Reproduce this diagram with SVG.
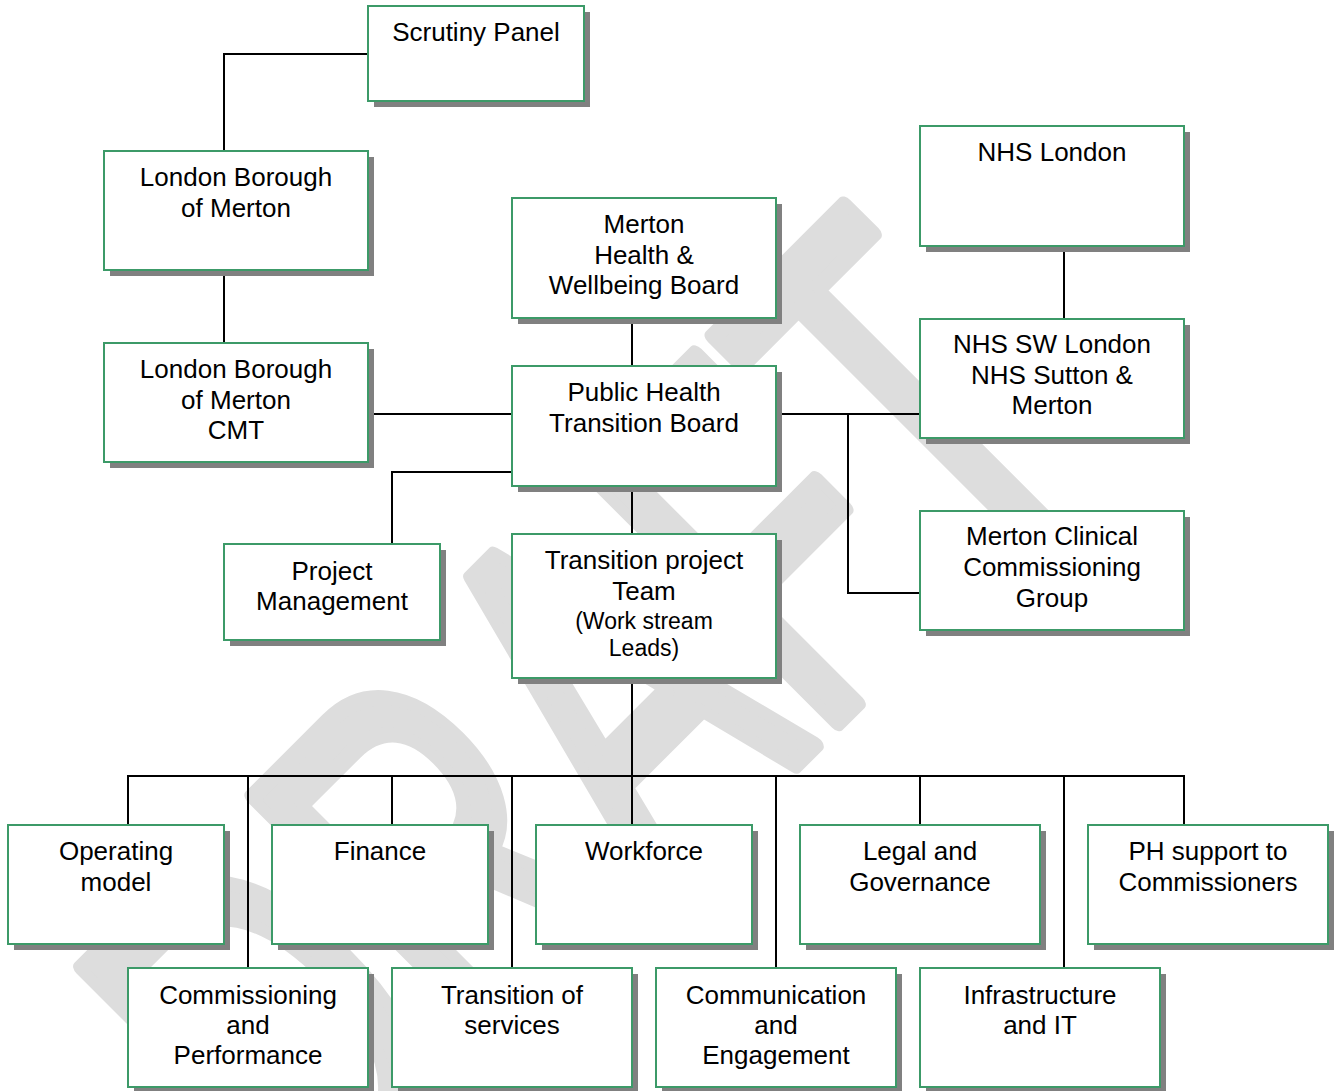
<svg xmlns="http://www.w3.org/2000/svg" width="1338" height="1091" viewBox="0 0 1338 1091">
<style>
text { font-family: "Liberation Sans", Arial, sans-serif; font-size: 26px; text-anchor: middle; fill: #000; }
text.sm { font-size: 23px; }
text.wm { font-size: 524px; text-anchor: start; fill: #dddddd; stroke: #dddddd; stroke-width: 18; stroke-linejoin: round; font-kerning: none; }
.sh { fill: #808080; }
.bx { fill: #ffffff; stroke: #3c9a68; stroke-width: 2; }
.cn { fill: none; stroke: #000; stroke-width: 2; }
</style>
<rect width="1338" height="1091" fill="#ffffff"/>
<g id="watermark" transform="rotate(-45)">
<text class="wm" transform="translate(-656,1103) scale(0.64,1)">DRAFT</text>
</g>
<g id="connectors" class="cn">
<path d="M368,54 H224 V151"/>
<path d="M224,270 V343"/>
<path d="M368,414 H512"/>
<path d="M632,318 V366"/>
<path d="M632,486 V534"/>
<path d="M512,472 H392 V544"/>
<path d="M776,414 H920"/>
<path d="M848,414 V593 H920"/>
<path d="M1064,246 V319"/>
<path d="M632,678 V825"/>
<path d="M128,825 V776 H1184 V825"/>
<path d="M248,776 V968"/>
<path d="M392,776 V825"/>
<path d="M512,776 V968"/>
<path d="M776,776 V968"/>
<path d="M920,776 V825"/>
<path d="M1064,776 V968"/>
</g>
<g id="scrutiny"><rect class="sh" x="374" y="12" width="216" height="95"/><rect class="bx" x="368" y="6" width="216" height="95"/><text x="476" y="41">Scrutiny Panel</text></g>
<g id="lbm"><rect class="sh" x="110" y="157" width="264" height="119"/><rect class="bx" x="104" y="151" width="264" height="119"/><text x="236" y="186">London Borough</text><text x="236" y="217">of Merton</text></g>
<g id="cmt"><rect class="sh" x="110" y="349" width="264" height="119"/><rect class="bx" x="104" y="343" width="264" height="119"/><text x="236" y="378">London Borough</text><text x="236" y="409">of Merton</text><text x="236" y="439">CMT</text></g>
<g id="hwb"><rect class="sh" x="518" y="204" width="264" height="120"/><rect class="bx" x="512" y="198" width="264" height="120"/><text x="644" y="233">Merton</text><text x="644" y="264">Health &amp;</text><text x="644" y="294">Wellbeing Board</text></g>
<g id="phtb"><rect class="sh" x="518" y="372" width="264" height="120"/><rect class="bx" x="512" y="366" width="264" height="120"/><text x="644" y="401">Public Health</text><text x="644" y="432">Transition Board</text></g>
<g id="pm"><rect class="sh" x="230" y="550" width="216" height="96"/><rect class="bx" x="224" y="544" width="216" height="96"/><text x="332" y="580">Project</text><text x="332" y="610">Management</text></g>
<g id="tpt"><rect class="sh" x="518" y="540" width="264" height="144"/><rect class="bx" x="512" y="534" width="264" height="144"/><text x="644" y="569">Transition project</text><text x="644" y="600">Team</text><text class="sm" x="644" y="629">(Work stream</text><text class="sm" x="644" y="656">Leads)</text></g>
<g id="nhsl"><rect class="sh" x="926" y="132" width="264" height="120"/><rect class="bx" x="920" y="126" width="264" height="120"/><text x="1052" y="161">NHS London</text></g>
<g id="nhssw"><rect class="sh" x="926" y="325" width="264" height="119"/><rect class="bx" x="920" y="319" width="264" height="119"/><text x="1052" y="353">NHS SW London</text><text x="1052" y="384">NHS Sutton &amp;</text><text x="1052" y="414">Merton</text></g>
<g id="mccg"><rect class="sh" x="926" y="517" width="264" height="119"/><rect class="bx" x="920" y="511" width="264" height="119"/><text x="1052" y="545">Merton Clinical</text><text x="1052" y="576">Commissioning</text><text x="1052" y="607">Group</text></g>
<g id="om"><rect class="sh" x="14" y="831" width="216" height="119"/><rect class="bx" x="8" y="825" width="216" height="119"/><text x="116" y="860">Operating</text><text x="116" y="891">model</text></g>
<g id="fin"><rect class="sh" x="278" y="831" width="216" height="119"/><rect class="bx" x="272" y="825" width="216" height="119"/><text x="380" y="860">Finance</text></g>
<g id="wf"><rect class="sh" x="542" y="831" width="216" height="119"/><rect class="bx" x="536" y="825" width="216" height="119"/><text x="644" y="860">Workforce</text></g>
<g id="lg"><rect class="sh" x="806" y="831" width="240" height="119"/><rect class="bx" x="800" y="825" width="240" height="119"/><text x="920" y="860">Legal and</text><text x="920" y="891">Governance</text></g>
<g id="ph"><rect class="sh" x="1094" y="831" width="240" height="119"/><rect class="bx" x="1088" y="825" width="240" height="119"/><text x="1208" y="860">PH support to</text><text x="1208" y="891">Commissioners</text></g>
<g id="cp"><rect class="sh" x="134" y="974" width="240" height="119"/><rect class="bx" x="128" y="968" width="240" height="119"/><text x="248" y="1004">Commissioning</text><text x="248" y="1034">and</text><text x="248" y="1064">Performance</text></g>
<g id="ts"><rect class="sh" x="398" y="974" width="240" height="119"/><rect class="bx" x="392" y="968" width="240" height="119"/><text x="512" y="1004">Transition of</text><text x="512" y="1034">services</text></g>
<g id="ce"><rect class="sh" x="662" y="974" width="240" height="119"/><rect class="bx" x="656" y="968" width="240" height="119"/><text x="776" y="1004">Communication</text><text x="776" y="1034">and</text><text x="776" y="1064">Engagement</text></g>
<g id="ii"><rect class="sh" x="926" y="974" width="240" height="119"/><rect class="bx" x="920" y="968" width="240" height="119"/><text x="1040" y="1004">Infrastructure</text><text x="1040" y="1034">and IT</text></g>
</svg>
